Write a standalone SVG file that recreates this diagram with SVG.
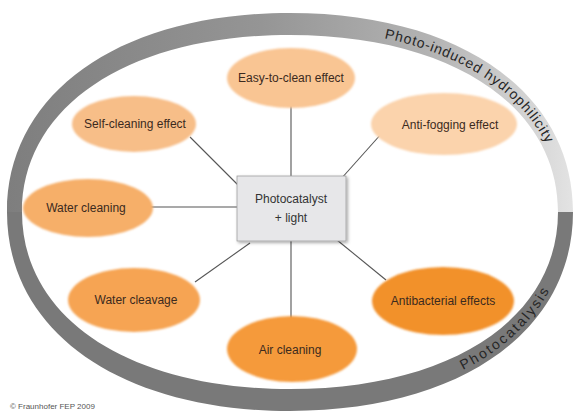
<svg xmlns="http://www.w3.org/2000/svg" width="574" height="412" viewBox="0 0 574 412">
<style>
.lbl{font-family:"Liberation Sans",Arial,sans-serif;font-size:12px;fill:#3b2a1e;text-anchor:middle}
.ring{font-family:"Liberation Sans",Arial,sans-serif;font-size:14px;fill:#262626}
.con{stroke:#555;stroke-width:1.1;fill:none}
.box{font-family:"Liberation Sans",Arial,sans-serif;font-size:12px;fill:#333;text-anchor:middle}
</style>
<defs>
<linearGradient id="gUp" gradientUnits="userSpaceOnUse" x1="7" y1="0" x2="573" y2="0">
<stop offset="0" stop-color="#7e7e7e"/>
<stop offset="0.45" stop-color="#959595"/>
<stop offset="0.75" stop-color="#b3b3b3"/>
<stop offset="1" stop-color="#e3e3e3"/>
</linearGradient>
<filter id="soft" x="-20%" y="-30%" width="140%" height="160%">
<feGaussianBlur stdDeviation="1.3"/>
</filter>
<filter id="shadow" x="-20%" y="-20%" width="150%" height="150%">
<feDropShadow dx="1.5" dy="1.5" stdDeviation="1.5" flood-color="#000" flood-opacity="0.35"/>
</filter>
<path id="arcUp" d="M18,212 C18,102.2 126.8,29 290,29 C453.2,29 562,102.2 562,212"/>
<path id="arcLow" d="M290,406 C457.4,406 569,328.4 569,212"/>
</defs>
<rect width="574" height="412" fill="#ffffff"/>
<g id="ring">
<path fill="url(#gUp)" d="M7,212 C7,92.6 120.2,13 290,13 C459.8,13 573,92.6 573,212 L558,212 C558,105.8 450.8,35 290,35 C129.2,35 22,105.8 22,212 Z"/>
<path fill="#797979" d="M573,212 C573,331.4 459.8,411 290,411 C120.2,411 7,331.4 7,212 L22,212 C22,318.2 129.2,389 290,389 C450.8,389 558,318.2 558,212 Z"/>
<text class="ring" letter-spacing="0.9"><textPath href="#arcUp" startOffset="460">Photo-induced hydrophilicity</textPath></text>
<text class="ring" letter-spacing="2.2"><textPath href="#arcLow" startOffset="178">Photocatalysis</textPath></text>
</g>
<g id="connectors">
<line class="con" x1="291" y1="105" x2="291" y2="180"/>
<line class="con" x1="190" y1="137" x2="245" y2="192"/>
<line class="con" x1="382" y1="133" x2="340" y2="180"/>
<line class="con" x1="150" y1="207" x2="240" y2="207"/>
<line class="con" x1="195" y1="282" x2="250" y2="243"/>
<line class="con" x1="291" y1="238" x2="291" y2="318"/>
<line class="con" x1="337" y1="240" x2="386" y2="280"/>
</g>
<g id="n-easy">
<ellipse cx="291" cy="78" rx="64" ry="30" fill="#f9c593" filter="url(#soft)"/>
<text class="lbl" x="291" y="82">Easy-to-clean effect</text>
</g>
<g id="n-self">
<ellipse cx="134" cy="124" rx="62" ry="28" fill="#f7be88" filter="url(#soft)"/>
<text class="lbl" x="135" y="128">Self-cleaning effect</text>
</g>
<g id="n-antifog">
<ellipse cx="444" cy="124" rx="73" ry="31" fill="#fbd3ac" filter="url(#soft)"/>
<text class="lbl" x="450" y="129">Anti-fogging effect</text>
</g>
<g id="n-watercleaning">
<ellipse cx="88" cy="208" rx="65" ry="29" fill="#f6af69" filter="url(#soft)"/>
<text class="lbl" x="86" y="212">Water cleaning</text>
</g>
<g id="n-center">
<rect x="237" y="176" width="109" height="65" fill="#e7e7e9" stroke="#a0a0a0" stroke-width="0.8" filter="url(#shadow)"/>
<text class="box" x="291" y="203">Photocatalyst</text>
<text class="box" x="291" y="222">+ light</text>
</g>
<g id="n-watercleavage">
<ellipse cx="134" cy="300" rx="66" ry="32" fill="#f6a453" filter="url(#soft)"/>
<text class="lbl" x="136" y="304">Water cleavage</text>
</g>
<g id="n-air">
<ellipse cx="292" cy="349" rx="65" ry="33" fill="#f59a3a" filter="url(#soft)"/>
<text class="lbl" x="290" y="354">Air cleaning</text>
</g>
<g id="n-antibac">
<ellipse cx="443" cy="301" rx="71" ry="34" fill="#f2912c" filter="url(#soft)"/>
<text class="lbl" x="443" y="305">Antibacterial effects</text>
</g>
<text x="10" y="409" font-family="'Liberation Sans',Arial,sans-serif" font-size="8" fill="#555">© Fraunhofer FEP 2009</text>
</svg>
